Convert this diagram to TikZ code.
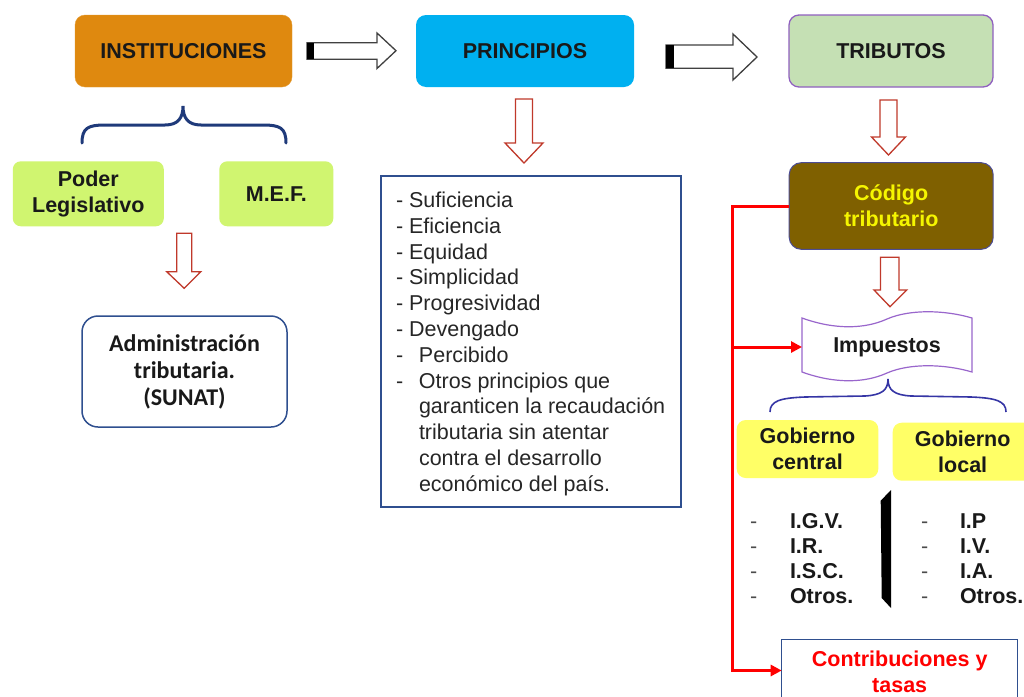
\documentclass[tikz,border=0pt]{standalone}
\usepackage{fontspec}
\setmainfont{Liberation Sans}
\newfontfamily\calfont{Carlito}
\usetikzlibrary{arrows.meta}
\definecolor{instorange}{HTML}{DF890F}
\definecolor{princyan}{HTML}{00B0F0}
\definecolor{tribgreen}{HTML}{C5E0B4}
\definecolor{tribpurple}{HTML}{9060C0}
\definecolor{limegreen}{RGB}{208,245,112}
\definecolor{govyellow}{HTML}{FFFF66}
\definecolor{olive}{HTML}{7F6000}
\definecolor{codeyellow}{HTML}{F5F500}
\definecolor{navyline}{HTML}{1F3A7A}
\definecolor{boxnavy}{HTML}{2F4F8F}
\definecolor{arrowred}{HTML}{C0392B}
\definecolor{linered}{HTML}{FF0000}
\definecolor{txtgray}{HTML}{262626}
\definecolor{tapepurple}{HTML}{9966CC}
\definecolor{bracelblue}{HTML}{3535A5}
\begin{document}
\begin{tikzpicture}[x=1pt,y=-1pt,
  every node/.style={inner sep=0pt, outer sep=0pt},
  bf/.style={font=\fontsize{21.5}{26}\selectfont\bfseries},
  rg/.style={font=\fontsize{21.5}{26}\selectfont, text=txtgray},
  topbox/.style={rounded corners=10pt, minimum height=72pt, bf, text=black!90},
  greenbox/.style={rounded corners=8pt, fill=limegreen, minimum height=65pt, bf, text=black!90, align=center},
  govbox/.style={rounded corners=9pt, fill=govyellow, minimum height=58pt, bf, text=black!90, align=center},
  blockarrow/.style={draw=black!75, fill=white, line width=1.3pt, line join=miter},
  redarrow/.style={draw=arrowred, fill=white, line width=1.3pt},
  redline/.style={draw=linered, line width=3pt},
  redtip/.style={-{Triangle[length=11pt,width=11pt]}},
  listitem/.style={anchor=base west, bf, text=black!90},
  listdash/.style={anchor=base west, rg, text=black!70},
  princ/.style={anchor=base west, rg}]
\useasboundingbox (0,0) rectangle (1024,696);
\fill[white] (0,0) rectangle (1024,696);

% top boxes
\node[topbox, fill=instorange, draw=instorange!85!white, minimum width=217pt] (inst) at (183.5,51) {INSTITUCIONES};
\node[topbox, fill=princyan, minimum width=218pt] (princ) at (525,51) {PRINCIPIOS};
\node[topbox, fill=tribgreen, draw=tribpurple, line width=1.3pt, minimum width=204pt] (trib) at (891,51) {TRIBUTOS};

% block arrows
\draw[blockarrow] (307,42.7) -- (377,42.7) -- (377,33) -- (396,50.7) -- (377,68.5) -- (377,59.3) -- (307,59.3) -- cycle;
\fill[black] (307,42.7) rectangle (313.5,59.3);
\draw[blockarrow] (666,45) -- (733,45) -- (733,34) -- (757,57) -- (733,80) -- (733,68.3) -- (666,68.3) -- cycle;
\fill[black] (666,45) rectangle (673.5,68.3);

% brace under instituciones
\draw[navyline, line width=3pt, line cap=round]
  (82,143) .. controls (82,128) and (88,125) .. (105,125) -- (165,125)
  .. controls (178,125) and (183,118) .. (183,106)
  .. controls (183,118) and (188,125) .. (201,125) -- (263,125)
  .. controls (280,125) and (286,128) .. (286,143);

\node[greenbox, minimum width=151pt] (poder) at (88.3,193.8) {Poder\\Legislativo};
\node[greenbox, minimum width=114pt] (mef) at (276.3,193.8) {M.E.F.};

% red arrow to SUNAT
\draw[redarrow] (176.7,233.3) -- (191.7,233.3) -- (191.7,271.7) -- (200.7,271.7) -- (184.2,288.3) -- (166.7,271.7) -- (176.7,271.7) -- cycle;

\node[draw=boxnavy, line width=1.5pt, rounded corners=16pt, minimum width=205pt, minimum height=111pt,
  font=\calfont\fontsize{24}{27}\selectfont\bfseries, text=black!90, align=center] (sunat) at (184.5,371.5)
  {Administración\\tributaria.\\(SUNAT)};

% red arrow under principios
\draw[redarrow] (515.5,99) -- (532.5,99) -- (532.5,143) -- (543,143) -- (524,163) -- (505,143) -- (515.5,143) -- cycle;

% principles box
\node[draw=boxnavy, line width=1.5pt, minimum width=300pt, minimum height=331pt] (plist) at (531,341.5) {};
\node[princ] (p1) at (396,207.5) {- Suficiencia};
\node[princ] (p2) at (396,233.3) {- Eficiencia};
\node[princ] (p3) at (396,259.1) {- Equidad};
\node[princ] (p4) at (396,284.9) {- Simplicidad};
\node[princ] (p5) at (396,310.7) {- Progresividad};
\node[princ] (p6) at (396,336.5) {- Devengado};
\node[princ] (p7) at (396,362.3) {\makebox[23pt][l]{-}Percibido};
\node[princ] (p8) at (396,388.1) {\makebox[23pt][l]{-}Otros principios que};
\node[princ] (p9) at (419,413.9) {garanticen la recaudación};
\node[princ] (p10) at (419,439.7) {tributaria sin atentar};
\node[princ] (p11) at (419,465.5) {contra el desarrollo};
\node[princ] (p12) at (419,491.3) {económico del país.};

% red arrow under tributos
\draw[redarrow] (880,100) -- (897,100) -- (897,137) -- (905.5,137) -- (888.5,155) -- (871.5,137) -- (880,137) -- cycle;

% codigo tributario
\node[rounded corners=12pt, fill=olive, draw=black!30!blue!40!gray, line width=1pt, minimum width=204pt, minimum height=86.6pt,
  bf, text=codeyellow, align=center] (code) at (891.2,206) {Código\\tributario};

% red arrow under codigo
\draw[redarrow] (880.5,257.3) -- (899,257.3) -- (899,290) -- (906.7,290) -- (890,306.7) -- (874,290) -- (880.5,290) -- cycle;

% impuestos tape
\draw[tapepurple, line width=1.2pt]
  (802,318) .. controls (835,330) and (865,329) .. (887,319)
  .. controls (910,309) and (945,310) .. (972,318)
  -- (972,372)
  .. controls (945,364) and (910,363) .. (887,373)
  .. controls (865,383) and (835,384) .. (802,372) -- cycle;
\node[bf, text=black!90, minimum width=170pt, minimum height=54pt] (imp) at (887,347) {Impuestos};

% brace under impuestos
\draw[bracelblue, line width=1.6pt]
  (770,412) .. controls (770,401) and (780,398) .. (805,397) -- (865,396)
  .. controls (882,395) and (888,390) .. (888,379)
  .. controls (888,390) and (894,395) .. (911,396) -- (971,397)
  .. controls (996,398) and (1006,401) .. (1006,412);

\node[govbox, minimum width=141.6pt] (gcen) at (807.5,449) {Gobierno\\central};
\node[govbox, minimum width=140pt] (gloc) at (962.7,451.7) {Gobierno\\local};

% lists
\node[listdash] (d1) at (750,528.7) {-};
\node[listdash] (d2) at (750,553.7) {-};
\node[listdash] (d3) at (750,578.7) {-};
\node[listdash] (d4) at (750,603.7) {-};
\node[listitem] (l1) at (790,528.7) {I.G.V.};
\node[listitem] (l2) at (790,553.7) {I.R.};
\node[listitem] (l3) at (790,578.7) {I.S.C.};
\node[listitem] (l4) at (790,603.7) {Otros.};
\node[listdash] (e1) at (921,528.7) {-};
\node[listdash] (e2) at (921,553.7) {-};
\node[listdash] (e3) at (921,578.7) {-};
\node[listdash] (e4) at (921,603.7) {-};
\node[listitem] (r1) at (960,528.7) {I.P};
\node[listitem] (r2) at (960,553.7) {I.V.};
\node[listitem] (r3) at (960,578.7) {I.A.};
\node[listitem] (r4) at (960,603.7) {Otros.};

% separator bar
\fill[black] (880.7,500.7) -- (891,490) -- (891,608) -- (881.7,598) -- cycle;

% contribuciones
\node[draw=boxnavy, line width=1.5pt, fill=white, minimum width=236pt, minimum height=62pt] (contrib) at (899.7,670.5) {};
\node[bf, text=linered, align=center] (ctext) at (899.7,672) {Contribuciones y\\tasas};

% red connectors
\coordinate (j) at (732,206);
\draw[redline, redtip] (code.west) -- (j) |- (contrib.west);
\draw[redline, redtip] (j |- imp.west) -- (imp.west);
\end{tikzpicture}
\end{document}
